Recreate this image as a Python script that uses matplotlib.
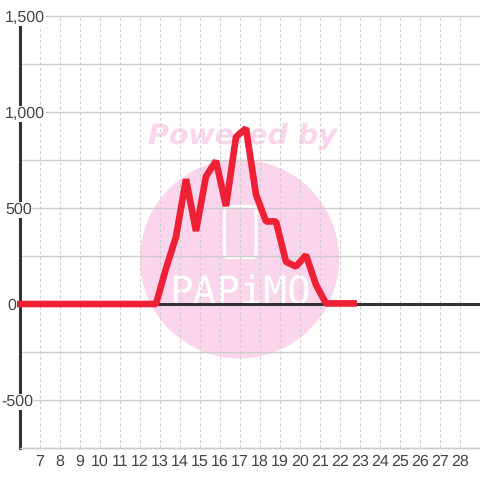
# Daily line chart with a watermark behind it
import matplotlib
matplotlib.use('Agg')
import matplotlib.pyplot as plt
from matplotlib.patches import Circle, FancyBboxPatch

plt.rcParams['font.family'] = ['Liberation Sans', 'DejaVu Sans']
plt.rcParams['text.hinting'] = 'none'

# Values
hours = [5.85, 12.8, 13.3, 13.8, 14.3, 14.8, 15.3, 15.8, 16.3, 16.8, 17.3,
         17.8, 18.3, 18.8, 19.3, 19.8, 20.3, 20.8, 21.3, 22.85]
values = [0, 0, 185, 350, 650, 380, 665, 745, 510, 870, 915,
          570, 430, 430, 220, 195, 255, 100, 3, 3]
x_ticks = list(range(7, 29))
y_ticks = [-500, 0, 500, 1000, 1500]
y_grid = [-750, -250, 250, 750, 1250]
y_labels = ['-500', '0', '500', '1,000', '1,500']
y_label_left = [1.5, 7, 5, 5, 5]

text_color = '#444444'
axis_color = '#333333'
grid_color = '#cccccc'
pink = '#fbd5ec'

fig = plt.figure(figsize=(4.8, 4.8), dpi=100, facecolor='white')

# Watermark goes on its own axes in pixel coordinates, behind the chart
bg = fig.add_axes([0, 0, 1, 1], zorder=0)
bg.set_xlim(0, 480)
bg.set_ylim(480, 0)
bg.axis('off')
bg.add_patch(Circle((239.5, 259), 99.5, color=pink, lw=0))
bg.text(242, 144, 'Powered by', color=pink, fontsize=20.5, fontweight='bold',
        fontstyle='italic', family='DejaVu Sans', ha='center', va='baseline')
bg.add_patch(FancyBboxPatch((224.5, 206.5), 31.5, 51, boxstyle='round,pad=0,rounding_size=4',
                            fc='none', ec='white', lw=2.2))
bg.text(240, 304, 'PAPiMO', color='white', fontsize=28.3, family='DejaVu Sans Mono',
        ha='center', va='baseline')

ax = fig.add_axes([20 / 480, 32 / 480, 460 / 480, 432 / 480], zorder=1)
ax.patch.set_alpha(0)
ax.set_xlim(6, 29)
ax.set_ylim(-750, 1500)

for spine in ['top', 'right']:
    ax.spines[spine].set_visible(False)
ax.spines['bottom'].set_color(grid_color)
ax.spines['bottom'].set_linewidth(1)
ax.spines['left'].set_color(axis_color)
ax.spines['left'].set_linewidth(2.2)
ax.spines['left'].set_zorder(2)

ax.set_xticks(x_ticks)
ax.tick_params(axis='x', length=0, pad=4.5, labelsize=11.5, labelcolor=text_color)
ax.set_yticks([])
ax.grid(False)

for x in x_ticks:
    ax.axvline(x, color=grid_color, lw=0.8, ls=(0, (2.5, 2.5)), zorder=1)
for y in y_grid + y_ticks:
    if y != 0:
        ax.axhline(y, color=grid_color, lw=1, zorder=1, clip_on=False)
ax.axhline(0, color=axis_color, lw=2.2, zorder=2)

# Labels sit on white boxes that cut the axis line and the gridlines
trans = ax.get_yaxis_transform()
for y, label, left in zip(y_ticks, y_labels, y_label_left):
    ax.text((left - 20) / 460, y, label, transform=trans, color=text_color, fontsize=11.5,
            ha='left', va='center_baseline', zorder=3, clip_on=False,
            bbox=dict(fc='white', ec='none', pad=0.3))

ax.plot(hours, values, color='#ee2035', lw=4.8, solid_joinstyle='bevel',
        solid_capstyle='butt', zorder=4, clip_on=False)

fig.savefig('out.png', dpi=100)
